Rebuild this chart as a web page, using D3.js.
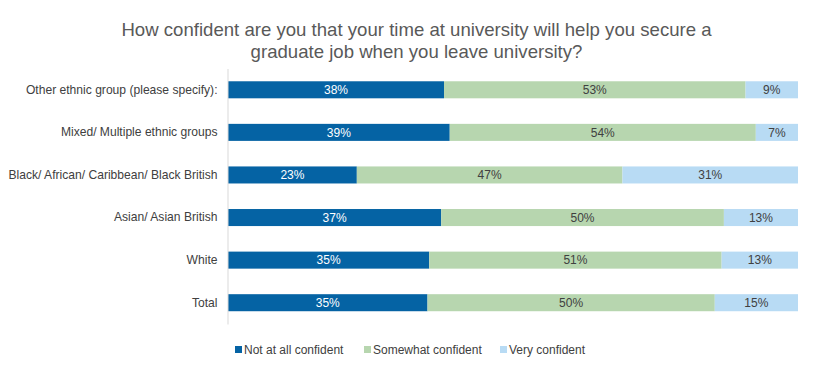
<!DOCTYPE html>
<html><head><meta charset="utf-8">
<script src="https://cdn.jsdelivr.net/npm/d3@7/dist/d3.min.js"></script>
<style>body{margin:0;background:#fff;}svg{display:block;font-family:"Liberation Sans",Arial,sans-serif;}</style>
</head><body>
<svg id="chart" width="813" height="368"></svg>
<script>
const categories = ["Other ethnic group (please specify):","Mixed/ Multiple ethnic groups","Black/ African/ Caribbean/ Black British","Asian/ Asian British","White","Total"];
const seriesNames = ["Not at all confident","Somewhat confident","Very confident"];
const notConfident = [37.9, 38.9, 22.6, 37.4, 35.3, 35.0];
const somewhatConfident = [52.9, 53.7, 46.6, 49.6, 51.3, 50.4];
const veryConfident = [9.2, 7.4, 30.8, 13.0, 13.4, 14.6];
const colors = ["#0563A4","#B7D6AF","#B8DBF4"];
const labelColors = ["#ffffff","#404040","#404040"];
const titleLines = ["How confident are you that your time at university will help you secure a","graduate job when you leave university?"];

const svg = d3.select("#chart");
const mLeft = 228, mRight = 798, mTop = 68.5, mBottom = 324;
const x = d3.scaleLinear().domain([0,100]).range([mLeft,mRight]);
const y = d3.scaleBand().domain(categories).range([mTop,mBottom]).paddingInner(0.6).paddingOuter(0.3);

svg.append("g").selectAll("text").data(titleLines).join("text")
  .attr("x",416.5).attr("y",(d,i)=>36+i*22).attr("text-anchor","middle")
  .attr("font-size",18.6).attr("fill","#595959").text(d=>d);

const data = categories.map((c,i)=>({cat:c, v:[notConfident[i],somewhatConfident[i],veryConfident[i]]}));
const stack = d3.stack().keys([0,1,2]).value((d,k)=>d.v[k]);
const stacked = stack(data);

stacked.forEach((layer,k)=>{
  const g = svg.append("g");
  g.selectAll("rect").data(layer).join("rect")
    .attr("x",d=>x(d[0])).attr("width",d=>x(d[1])-x(d[0]))
    .attr("y",d=>y(d.data.cat)).attr("height",y.bandwidth())
    .attr("fill",colors[k]);
  g.selectAll("text").data(layer).join("text")
    .attr("x",d=>(x(d[0])+x(d[1]))/2).attr("y",d=>y(d.data.cat)+y.bandwidth()/2+4.3)
    .attr("text-anchor","middle").attr("font-size",12).attr("fill",labelColors[k])
    .text(d=>Math.round(d[1]-d[0])+"%");
});

const yAxis = d3.axisLeft(y).tickSize(0).tickPadding(10);
const ga = svg.append("g").attr("transform",`translate(${mLeft-0.5},0)`).call(yAxis);
ga.select(".domain").attr("stroke","#d9d9d9");
ga.selectAll("text").attr("font-size",12.1).attr("fill","#404040").attr("font-family","Liberation Sans, Arial, sans-serif");

const lx = [235, 364, 500];
const lg = svg.append("g").selectAll("g").data(seriesNames).join("g")
  .attr("transform",(d,i)=>`translate(${lx[i]},350)`);
lg.append("rect").attr("x",0).attr("y",-4).attr("width",7).attr("height",7).attr("fill",(d,i)=>colors[i]);
lg.append("text").attr("x",9).attr("y",4.3).attr("font-size",12).attr("fill","#404040").text(d=>d);
</script>
</body></html>
